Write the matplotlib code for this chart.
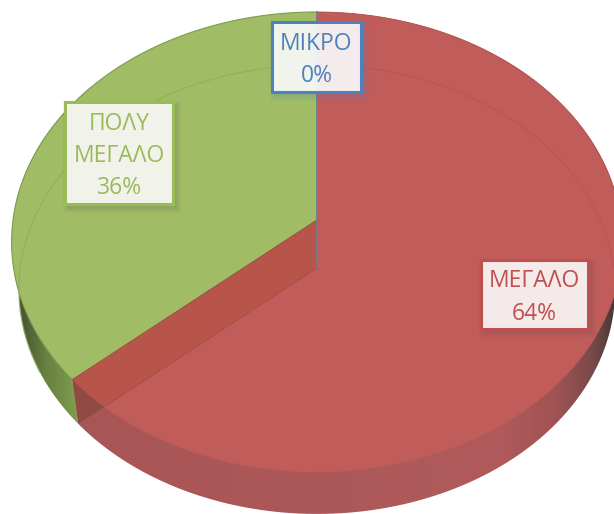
import numpy as np
import matplotlib
matplotlib.use("Agg")
import matplotlib.pyplot as plt
from matplotlib.colors import LinearSegmentedColormap
from matplotlib.patches import Polygon, Rectangle

# Chart data
categories = ["ΜΙΚΡΟ", "ΜΕΓΑΛΟ", "ΠΟΛΥ\nΜΕΓΑΛΟ"]
percent_values = [0, 63.6, 36.4]

top_colors = ["#4f81bd", "#c05c5a", "#a0bc64"]
text_colors = ["#4f81bd", "#c0504d", "#9bbb59"]

plt.rcParams["font.family"] = ["Open Sans", "DejaVu Sans"]

# Perspective pie, everything below is in picture pixels
cx = 317
top_cy = 220
low_cy = 268
low_scale = 0.976
rx = 304
ry = 227.9
tilt = 0.0956


def rim(frac0, frac1, cy, scale=1.0, n=200):
    """Points on the tilted circle, fractions run clockwise from 12 o'clock."""
    t = 2 * np.pi * np.linspace(frac0, frac1, n)
    w = 1 + tilt * np.cos(t)
    x = cx + scale * rx * np.sin(t) / w
    y = cy - scale * ry * np.cos(t) / w
    return np.column_stack([x, y])


def gradient_wall(ax, pts, stops, x0, x1, zorder):
    """Side wall of a slice, shaded from left to right and clipped to the wall shape."""
    cmap = LinearSegmentedColormap.from_list("wall", stops, N=1024)
    img = ax.imshow(np.linspace(0, 1, 1024).reshape(1, -1), cmap=cmap, extent=(x0, x1, 514, 0),
                    aspect="auto", zorder=zorder, interpolation="bilinear")
    clip = Polygon(pts, closed=True, transform=ax.transData)
    img.set_clip_path(clip)


fig = plt.figure(figsize=(6.14, 5.14), dpi=100)
ax = fig.add_axes([0, 0, 1, 1])

# slice limits as fractions of the circle
fracs = np.cumsum([0] + percent_values) / 100.0
small_f0, small_f1 = fracs[0], fracs[1]
big_f0, big_f1 = fracs[1], fracs[2]
huge_f0, huge_f1 = fracs[2], fracs[3]

# side walls
red_wall = np.vstack([rim(big_f0, big_f1, top_cy), rim(big_f0, big_f1, low_cy, low_scale)[::-1]])
green_wall = np.vstack([rim(huge_f0, huge_f1, top_cy), rim(huge_f0, huge_f1, low_cy, low_scale)[::-1]])
gradient_wall(ax, red_wall,
              [(0, "#a85555"), (0.78, "#b05a5b"), (0.88, "#a25354"), (0.95, "#7a4a4a"), (1, "#3c3232")],
              70, 620, 1)
gradient_wall(ax, green_wall, [(0, "#3e4a30"), (0.4, "#66803f"), (1, "#8aa956")], 15, 90, 1)

# top faces
big_top = np.vstack([[cx, top_cy], rim(big_f0, big_f1, top_cy)])
huge_top = np.vstack([[cx, top_cy], rim(huge_f0, huge_f1, top_cy)])
ax.add_patch(Polygon(big_top, closed=True, fc=top_colors[1], ec="#b05452", lw=0.6, zorder=2))
ax.add_patch(Polygon(huge_top, closed=True, fc=top_colors[2], ec="#7f9a50", lw=0.8, zorder=2))

# far rim of the lower face, seen through the top
inner_big = rim(big_f0, big_f0 + 0.25, low_cy, low_scale)
inner_huge = rim(huge_f0 + 0.04, huge_f1, low_cy, low_scale)
ax.plot(inner_big[:, 0], inner_big[:, 1], color="#b85353", lw=0.9, alpha=0.7, zorder=3)
ax.plot(inner_huge[:, 0], inner_huge[:, 1], color="#93af5c", lw=0.9, alpha=0.9, zorder=3)

# cut face of the red slice, seen through the top
rim_top = rim(big_f1, big_f1, top_cy, n=1)[0]
rim_low = rim(big_f1, big_f1, low_cy, low_scale, n=1)[0]
cut = np.array([[cx, top_cy], rim_top, rim_low, [cx, low_cy]])
ax.add_patch(Polygon(cut, closed=True, fc="#8f4a44", ec="none", zorder=4))
inside = Polygon(cut, closed=True, fc="#b7554b", ec="#a84f47", lw=0.6, zorder=5)
ax.add_patch(inside)
inside.set_clip_path(Polygon(rim(0, 1, top_cy), closed=True, transform=ax.transData))

# the empty slice is only a line
small_edge = np.vstack([[cx, low_cy], [cx, top_cy], rim(small_f0, small_f1, top_cy, n=2)])
ax.plot(small_edge[:, 0], small_edge[:, 1], color="#6d7b98", lw=1.2, zorder=6)

# data labels
boxes = [(272, 22, 89, 70), (481, 260, 107, 69), (65, 102, 108, 102)]
for name, value, box, col in zip(categories, percent_values, boxes, text_colors):
    x, y, w, h = box
    for grow, alpha in [(5, 0.05), (3, 0.07), (1, 0.1)]:
        ax.add_patch(Rectangle((x - grow + 3, y - grow + 4), w + 2 * grow, h + 2 * grow,
                               fc=col if name == "ΜΙΚΡΟ" else "#555555", ec="none", alpha=alpha, zorder=7))
    ax.add_patch(Rectangle((x, y), w, h, fc="white", ec="none", alpha=0.88, zorder=8))
    ax.add_patch(Rectangle((x, y), w, h, fc="none", ec=col, lw=2.2, zorder=9))
    ax.text(x + w / 2, y + h / 2 + 3, f"{name}\n{value:.0f}%", color=col, fontsize=16.5,
            ha="center", va="center", linespacing=1.45, zorder=10)

ax.set_xlim(0, 614)
ax.set_ylim(514, 0)
ax.axis("off")

fig.savefig("out.png", dpi=100)
